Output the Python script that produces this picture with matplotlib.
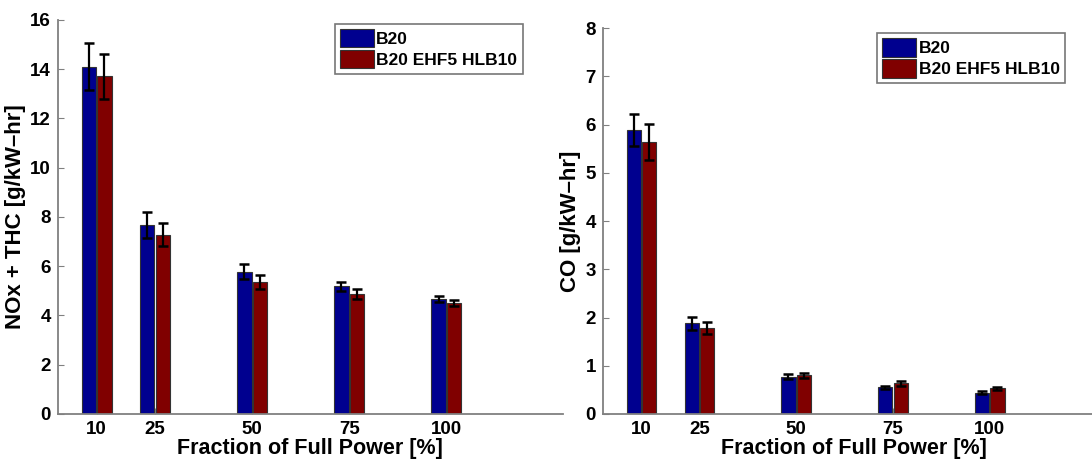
import numpy as np
import matplotlib
matplotlib.use("Agg")
import matplotlib.pyplot as plt

plt.rcParams['font.family'] = ['Liberation Sans', 'DejaVu Sans']
plt.rcParams['font.weight'] = 'bold'

power = [10, 25, 50, 75, 100]
labels = ['B20', 'B20 EHF5 HLB10']

# NOx + THC [g/kW-hr]
nox_b20 = [14.1, 7.67, 5.77, 5.18, 4.67]
nox_b20_err = [0.95, 0.52, 0.30, 0.18, 0.13]
nox_ehf = [13.7, 7.28, 5.37, 4.88, 4.51]
nox_ehf_err = [0.90, 0.46, 0.28, 0.20, 0.13]

# CO [g/kW-hr]
co_b20 = [5.89, 1.88, 0.77, 0.55, 0.44]
co_b20_err = [0.33, 0.13, 0.05, 0.04, 0.03]
co_ehf = [5.64, 1.78, 0.80, 0.64, 0.53]
co_ehf_err = [0.38, 0.12, 0.05, 0.05, 0.03]

colors = ['#00008f', '#800000']
spine_col = '#808080'


def draw(ax, a, a_err, b, b_err, ylim, yticks, ylabel, legend_loc):
    x = np.array(power, dtype=float)
    w = 3.7
    for off, vals, errs, c, lab in [(-2.0, a, a_err, colors[0], labels[0]),
                                     (2.0, b, b_err, colors[1], labels[1])]:
        ax.bar(x + off, vals, width=w, color=c, edgecolor='#333333',
               linewidth=0.8, label=lab, zorder=2)
        ax.errorbar(x + off, vals, yerr=errs, fmt='none', ecolor='black',
                    elinewidth=1.6, capsize=3.6, capthick=1.8, zorder=3)
    ax.set_xlim(0, 130)
    ax.set_ylim(*ylim)
    ax.set_xticks(power)
    ax.set_yticks(yticks)
    ax.tick_params(direction='in', length=4, color=spine_col, labelsize=13.5,
                   pad=5)
    for s in ['top', 'right']:
        ax.spines[s].set_visible(False)
    for s in ['left', 'bottom']:
        ax.spines[s].set_color(spine_col)
        ax.spines[s].set_linewidth(1.3)
    ax.set_xlabel('Fraction of Full Power [%]', fontsize=15.5, fontweight='bold',
                  labelpad=0)
    ax.set_ylabel(ylabel, fontsize=16, fontweight='bold', labelpad=3)
    leg = ax.legend(loc='upper left', bbox_to_anchor=legend_loc, fontsize=12.5,
                    frameon=True, fancybox=False, handlelength=1.95,
                    handleheight=1.25, borderpad=0.3, labelspacing=0.15,
                    handletextpad=0.15, borderaxespad=0)
    leg.get_frame().set_edgecolor('#555555')
    leg.get_frame().set_linewidth(1.2)


fig = plt.figure(figsize=(10.92, 4.61), dpi=100)
ax1 = fig.add_axes([0.053, 0.102, 0.4625, 0.855])
ax2 = fig.add_axes([0.552, 0.102, 0.4606, 0.837])

draw(ax1, nox_b20, nox_b20_err, nox_ehf, nox_ehf_err, (0, 16),
     range(0, 17, 2), 'NOx + THC [g/kW\u2013hr]', (0.548, 0.99))
draw(ax2, co_b20, co_b20_err, co_ehf, co_ehf_err, (0, 8),
     range(0, 9, 1), 'CO [g/kW\u2013hr]', (0.545, 0.987))

fig.savefig('out.png', dpi=100)
